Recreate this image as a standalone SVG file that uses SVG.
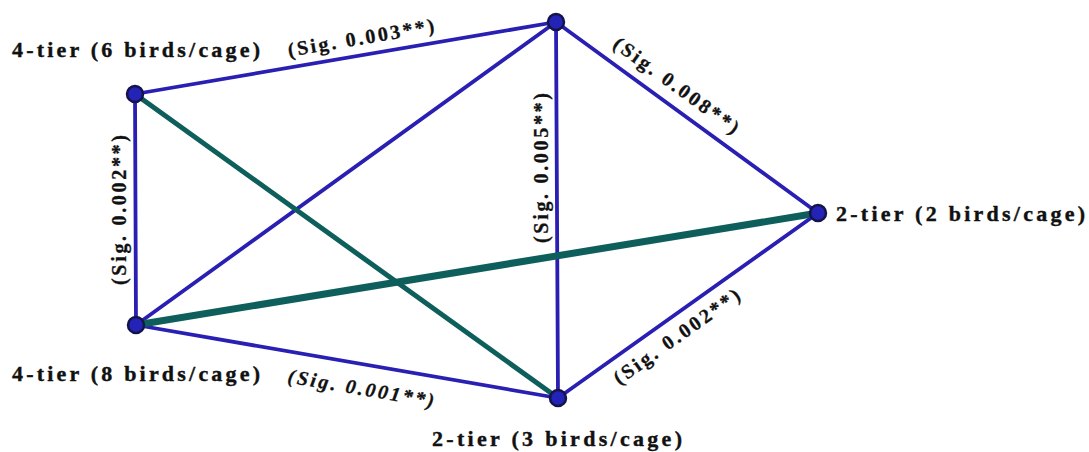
<svg xmlns="http://www.w3.org/2000/svg" width="1089" height="452" viewBox="0 0 1089 452">
<style>
.e{stroke:#2a1fb3;stroke-width:3.8;fill:none;stroke-linecap:round}
.t{stroke:#0e5f5c;fill:none;stroke-linecap:round}
.n{fill:#2323b8;stroke:#14144a;stroke-width:2.5}
.lab{font-family:"Liberation Serif",serif;font-weight:900;font-size:22px;fill:#111;stroke:#111;stroke-width:0.4}
.sig{font-family:"Liberation Serif",serif;font-weight:900;font-size:20px;fill:#111;stroke:#111;stroke-width:0.3}
</style>
<rect width="1089" height="452" fill="#fff"/>
<g id="connectors">
<line class="e" x1="135" y1="94" x2="556" y2="22"/>
<line class="e" x1="135" y1="94" x2="136" y2="325"/>
<line class="e" x1="556" y1="22" x2="136" y2="325"/>
<line class="e" x1="556" y1="22" x2="558" y2="398"/>
<line class="e" x1="556" y1="22" x2="818" y2="213"/>
<line class="e" x1="136" y1="325" x2="558" y2="398"/>
<line class="e" x1="558" y1="398" x2="818" y2="213"/>
<line class="t" stroke-width="5" x1="135" y1="94" x2="558" y2="398"/>
<line class="t" stroke-width="7" x1="136" y1="325" x2="818" y2="213"/>
</g>
<g id="edge-labels">
<text class="sig" transform="translate(361,38.5) rotate(-9.7)" x="0" y="6" text-anchor="middle" textLength="148" lengthAdjust="spacing">(Sig. 0.003**)</text>
<text class="sig" transform="translate(676,86) rotate(36)" x="0" y="6" text-anchor="middle" textLength="150" lengthAdjust="spacing">(Sig. 0.008**)</text>
<text class="sig" transform="translate(120,210) rotate(-90)" x="0" y="6" text-anchor="middle" textLength="150" lengthAdjust="spacing">(Sig. 0.002**)</text>
<text class="sig" transform="translate(542,168) rotate(-90)" x="0" y="6" text-anchor="middle" textLength="150" lengthAdjust="spacing">(Sig. 0.005**)</text>
<text class="sig" font-style="italic" transform="translate(361,389) rotate(9.8)" x="0" y="6" text-anchor="middle" textLength="148" lengthAdjust="spacing">(Sig. 0.001**)</text>
<text class="sig" transform="translate(677,337) rotate(-35.4)" x="0" y="6" text-anchor="middle" textLength="150" lengthAdjust="spacing">(Sig. 0.002**)</text>
</g>
<g id="n1"><circle class="n" cx="135" cy="94" r="8"/><text class="lab" x="12" y="57" textLength="248" lengthAdjust="spacing">4-tier (6 birds/cage)</text></g>
<g id="n2"><circle class="n" cx="556" cy="22" r="8"/></g>
<g id="n3"><circle class="n" cx="818" cy="213" r="8"/><text class="lab" x="836" y="221" textLength="249" lengthAdjust="spacing">2-tier (2 birds/cage)</text></g>
<g id="n4"><circle class="n" cx="136" cy="325" r="8"/><text class="lab" x="12" y="381" textLength="248" lengthAdjust="spacing">4-tier (8 birds/cage)</text></g>
<g id="n5"><circle class="n" cx="558" cy="398" r="8"/><text class="lab" x="432" y="446" textLength="250" lengthAdjust="spacing">2-tier (3 birds/cage)</text></g>
</svg>
